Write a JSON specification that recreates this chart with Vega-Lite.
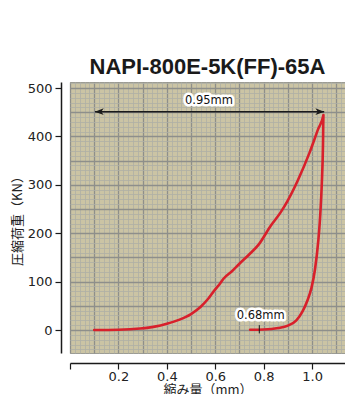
{
  "$schema": "https://vega.github.io/schema/vega-lite/v6.json",
  "width": 275,
  "height": 271,
  "autosize": {"type": "none"},
  "padding": {"left": 70, "top": 82, "right": 0, "bottom": 41},
  "background": "white",
  "view": {"fill": "#cbc4a4", "stroke": "#9c9c94", "strokeWidth": 1},
  "title": {
    "text": "NAPI-800E-5K(FF)-65A",
    "font": "Liberation Sans",
    "fontSize": 22,
    "fontWeight": "bold",
    "color": "#1a1a1a",
    "anchor": "middle",
    "frame": "group",
    "baseline": "alphabetic",
    "offset": -19
  },
  "datasets": {
    "curve": [
      {"i": 0, "x": 0.10, "y": 0},
      {"i": 1, "x": 0.20, "y": 0.5},
      {"i": 2, "x": 0.29, "y": 3},
      {"i": 3, "x": 0.35, "y": 7},
      {"i": 4, "x": 0.40, "y": 13},
      {"i": 5, "x": 0.45, "y": 21},
      {"i": 6, "x": 0.50, "y": 33},
      {"i": 7, "x": 0.54, "y": 48},
      {"i": 8, "x": 0.57, "y": 64},
      {"i": 9, "x": 0.60, "y": 84},
      {"i": 10, "x": 0.62, "y": 96},
      {"i": 11, "x": 0.634, "y": 106},
      {"i": 12, "x": 0.67, "y": 122},
      {"i": 13, "x": 0.70, "y": 137},
      {"i": 14, "x": 0.74, "y": 156},
      {"i": 15, "x": 0.78, "y": 177},
      {"i": 16, "x": 0.83, "y": 216},
      {"i": 17, "x": 0.87, "y": 243},
      {"i": 18, "x": 0.90, "y": 268},
      {"i": 19, "x": 0.94, "y": 308},
      {"i": 20, "x": 0.99, "y": 367},
      {"i": 21, "x": 1.025, "y": 415},
      {"i": 22, "x": 1.047, "y": 444},
      {"i": 23, "x": 1.045, "y": 380},
      {"i": 24, "x": 1.040, "y": 300},
      {"i": 25, "x": 1.034, "y": 240},
      {"i": 26, "x": 1.026, "y": 186},
      {"i": 27, "x": 1.012, "y": 125},
      {"i": 28, "x": 0.998, "y": 88},
      {"i": 29, "x": 0.980, "y": 60},
      {"i": 30, "x": 0.960, "y": 38},
      {"i": 31, "x": 0.935, "y": 20},
      {"i": 32, "x": 0.900, "y": 9},
      {"i": 33, "x": 0.860, "y": 4},
      {"i": 34, "x": 0.800, "y": 1},
      {"i": 35, "x": 0.744, "y": 0.5}
    ],
    "arrow": [{"x": 0.103, "x2": 1.05, "y": 451}],
    "heads": [
      {"x": 0.103, "y": 451, "dir": "left"},
      {"x": 1.05, "y": 451, "dir": "right"}
    ],
    "mark068": [{"x": 0.782, "y": -7, "y2": 10}],
    "labels": [
      {"x": 0.574, "y": 473, "label": "0.95mm"},
      {"x": 0.788, "y": 29, "label": "0.68mm"}
    ]
  },
  "layer": [
    {
      "data": {"name": "curve"},
      "mark": {"type": "line", "color": "#d8202b", "strokeWidth": 2.6, "strokeCap": "round", "strokeJoin": "round", "interpolate": "monotone"},
      "encoding": {
        "x": {
          "field": "x", "type": "quantitative",
          "scale": {"domain": [0, 1.136], "nice": false, "zero": false},
          "axis": {
            "values": [0,0.02,0.04,0.06,0.08,0.1,0.12,0.14,0.16,0.18,0.2,0.22,0.24,0.26,0.28,0.3,0.32,0.34,0.36,0.38,0.4,0.42,0.44,0.46,0.48,0.5,0.52,0.54,0.56,0.58,0.6,0.62,0.64,0.66,0.68,0.7,0.72,0.74,0.76,0.78,0.8,0.82,0.84,0.86,0.88,0.9,0.92,0.94,0.96,0.98,1.0,1.02,1.04,1.06,1.08,1.1,1.12],
            "tickCount": 500,
            "offset": 10,
            "grid": true,
            "gridColor": {"condition": {"test": "abs(datum.value*10 - round(datum.value*10)) < 0.001", "value": "#8e8f8b"}, "value": "#afb0a6"},
            "gridWidth": {"condition": {"test": "abs(datum.value*10 - round(datum.value*10)) < 0.001", "value": 1.3}, "value": 0.8},
            "ticks": true,
            "tickSize": 6,
            "tickColor": "#1a1a1a",
            "tickWidth": 1.2,
            "tickOpacity": {"condition": {"test": "abs(datum.value*5 - round(datum.value*5)) < 0.001 && datum.value < 1.01", "value": 1}, "value": 0},
            "labelExpr": "(abs(datum.value*5 - round(datum.value*5)) < 0.001 && datum.value > 0.01 && datum.value < 1.01) ? format(datum.value, '.1f') : ''",
            "labelFont": "DejaVu Sans",
            "labelFontSize": 13,
            "labelColor": "#222",
            "labelPadding": 1,
            "labelOverlap": false,
            "labelFlush": false,
            "labelBound": false,
            "domainColor": "#1a1a1a",
            "domainWidth": 1.5,
            "title": "縮み量（mm）",
            "titleFont": "Noto Sans CJK JP",
            "titleFontSize": 13,
            "titleFontWeight": "normal",
            "titleColor": "#222",
            "titlePadding": 0
          }
        },
        "y": {
          "field": "y", "type": "quantitative",
          "scale": {"domain": [-47.5, 512.4], "nice": false, "zero": false},
          "axis": {
            "values": [-40,-30,-20,-10,0,10,20,30,40,50,60,70,80,90,100,110,120,130,140,150,160,170,180,190,200,210,220,230,240,250,260,270,280,290,300,310,320,330,340,350,360,370,380,390,400,410,420,430,440,450,460,470,480,490,500,510],
            "tickCount": 500,
            "offset": 9,
            "grid": true,
            "gridColor": {"condition": {"test": "abs(datum.value % 50) < 0.01", "value": "#8e8f8b"}, "value": "#afb0a6"},
            "gridWidth": {"condition": {"test": "abs(datum.value % 50) < 0.01", "value": 1.3}, "value": 0.8},
            "tickSize": 6,
            "tickColor": "#1a1a1a",
            "tickWidth": 1.2,
            "tickOpacity": {"condition": {"test": "datum.value >= 0 && datum.value % 100 == 0", "value": 1}, "value": 0},
            "labelExpr": "(datum.value >= 0 && datum.value % 100 == 0) ? format(datum.value, 'd') : ''",
            "labelFont": "DejaVu Sans",
            "labelFontSize": 13,
            "labelColor": "#222",
            "labelPadding": 3,
            "labelOverlap": false,
            "labelFlush": false,
            "labelBound": false,
            "domainColor": "#1a1a1a",
            "domainWidth": 1.5,
            "title": "圧縮荷重（KN）",
            "titleFont": "Noto Sans CJK JP",
            "titleFontSize": 13,
            "titleFontWeight": "normal",
            "titleColor": "#222",
            "titlePadding": 3
          }
        },
        "order": {"field": "i", "type": "quantitative"}
      }
    },
    {
      "data": {"name": "arrow"},
      "mark": {"type": "rule", "color": "#1a1a1a", "strokeWidth": 1.5},
      "encoding": {
        "x": {"field": "x", "type": "quantitative"},
        "x2": {"field": "x2"},
        "y": {"field": "y", "type": "quantitative"}
      }
    },
    {
      "data": {"name": "heads"},
      "mark": {"type": "point", "filled": true, "color": "#1a1a1a", "opacity": 1, "size": 64, "strokeWidth": 0},
      "encoding": {
        "x": {"field": "x", "type": "quantitative"},
        "y": {"field": "y", "type": "quantitative"},
        "shape": {
          "field": "dir", "type": "nominal",
          "scale": {"domain": ["left", "right"], "range": ["M0,0L2.2,-0.85L1.6,0L2.2,0.85Z", "M0,0L-2.2,-0.85L-1.6,0L-2.2,0.85Z"]},
          "legend": null
        }
      }
    },
    {
      "data": {"name": "mark068"},
      "mark": {"type": "rule", "color": "#1a1a1a", "strokeWidth": 1},
      "encoding": {
        "x": {"field": "x", "type": "quantitative"},
        "y": {"field": "y", "type": "quantitative"},
        "y2": {"field": "y2"}
      }
    },
    {
      "data": {"name": "labels"},
      "mark": {"type": "text", "font": "DejaVu Sans", "fontSize": 11.5, "color": "white", "stroke": "white", "strokeWidth": 5, "strokeJoin": "round", "align": "center", "baseline": "middle"},
      "encoding": {
        "x": {"field": "x", "type": "quantitative"},
        "y": {"field": "y", "type": "quantitative"},
        "text": {"field": "label"}
      }
    },
    {
      "data": {"name": "labels"},
      "mark": {"type": "text", "font": "DejaVu Sans", "fontSize": 11.5, "color": "#111", "align": "center", "baseline": "middle"},
      "encoding": {
        "x": {"field": "x", "type": "quantitative"},
        "y": {"field": "y", "type": "quantitative"},
        "text": {"field": "label"}
      }
    }
  ]
}
